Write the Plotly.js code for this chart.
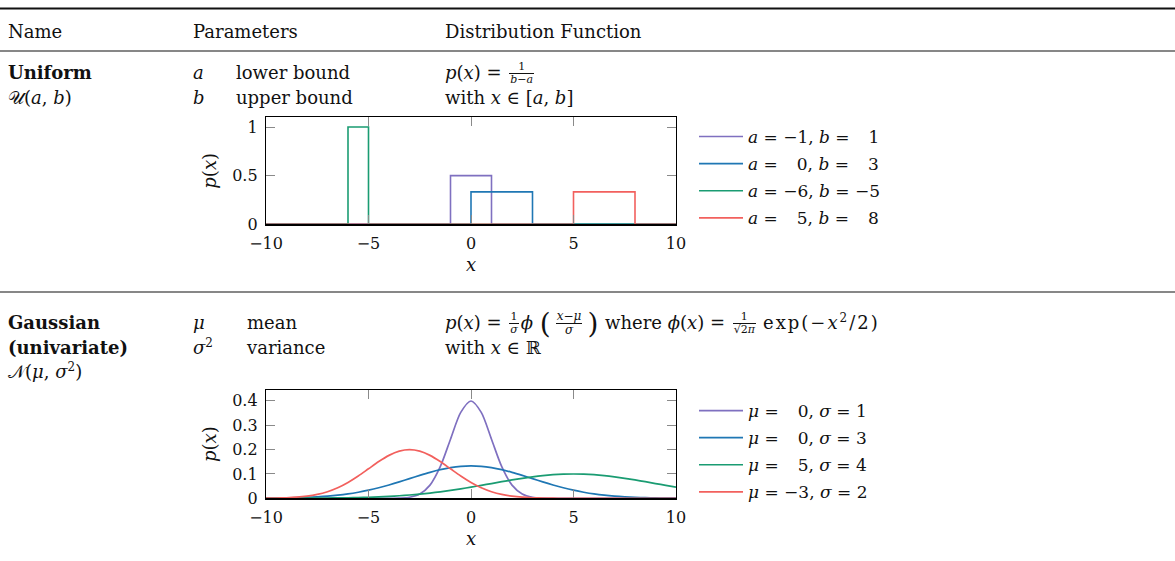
<!DOCTYPE html>
<html><head><meta charset="utf-8">
<script src="https://cdn.plot.ly/plotly-3.0.1.min.js"></script>
<style>
html,body{margin:0;padding:0;background:#fff;}
#wrap{position:relative;width:1175px;height:561px;overflow:hidden;background:#fff;}
#plot{position:absolute;left:0;top:0;width:1175px;height:561px;}
.t{position:absolute;font-family:'DejaVu Serif',serif;font-size:18px;line-height:18px;white-space:nowrap;color:#111;z-index:5;}
.t i{font-style:italic;}
.frac{display:inline-block;vertical-align:-4.3px;text-align:center;font-size:11px;line-height:12px;margin:0 2px;}
.frac.w{font-size:12px;line-height:13px;vertical-align:-5.1px;margin:0 4px;}
.frac>span{display:block;padding:0 1px;}
.frac>span.n{border-bottom:1px solid #111;}
sup{font-size:12px;vertical-align:7px;line-height:0;}
.big{font-size:28px;line-height:18px;vertical-align:-4px;font-weight:200;margin:0 1px;}
.ex{letter-spacing:2px;margin-left:5px;}
.mk{display:inline-block;width:0;height:0;vertical-align:baseline;}
</style></head><body>
<div id="wrap"><div id="plot"></div></div>
<script>
// ---------------- data ----------------
// Uniform distributions: parameters
const uniformA = [-1, 0, -6, 5];
const uniformB = [1, 3, -5, 8];
const uniformH = [0.5, 0.333, 1, 0.333];
const uniformColors = ['#7f70c0', '#1f77b4', '#1a9c72', '#f2605d'];

// Gaussian curves: x grid and density values
const gaussX = [-10,-9.5,-9,-8.5,-8,-7.5,-7,-6.5,-6,-5.5,-5,-4.5,-4,-3.5,-3,-2.5,-2,-1.5,-1,-0.5,0,
                0.5,1,1.5,2,2.5,3,3.5,4,4.5,5,5.5,6,6.5,7,7.5,8,8.5,9,9.5,10];
const gaussMu = [0, 0, 5, -3];
const gaussSigma = [1, 3, 4, 2];
const gauss_0_1 = [0,0,0,0,0,0,0,0,0,0,0,0,0.0001,0.0009,0.0044,0.0175,0.0540,0.1295,0.2420,0.3521,0.3989,
                   0.3521,0.2420,0.1295,0.0540,0.0175,0.0044,0.0009,0.0001,0,0,0,0,0,0,0,0,0,0,0,0];
const gauss_0_3 = [0.0005,0.0009,0.0015,0.0024,0.0038,0.0058,0.0087,0.0127,0.0180,0.0248,0.0332,0.0432,0.0547,0.0673,0.0807,0.0940,0.1065,0.1174,0.1258,0.1312,0.1330,
                   0.1312,0.1258,0.1174,0.1065,0.0940,0.0807,0.0673,0.0547,0.0432,0.0332,0.0248,0.0180,0.0127,0.0087,0.0058,0.0038,0.0024,0.0015,0.0009,0.0005];
const gauss_5_4 = [0.0001,0.0001,0.0002,0.0003,0.0005,0.0008,0.0011,0.0016,0.0023,0.0032,0.0044,0.0059,0.0079,0.0104,0.0135,0.0172,0.0216,0.0266,0.0324,0.0388,0.0457,
                   0.0530,0.0605,0.0680,0.0753,0.0820,0.0880,0.0930,0.0967,0.0990,0.0997,0.0990,0.0967,0.0930,0.0880,0.0820,0.0753,0.0680,0.0605,0.0530,0.0457];
const gauss_m3_2 = [0.0004,0.0010,0.0022,0.0045,0.0088,0.0159,0.0270,0.0431,0.0648,0.0913,0.1210,0.1506,0.1760,0.1933,0.1995,0.1933,0.1760,0.1506,0.1210,0.0913,0.0648,
                    0.0431,0.0270,0.0159,0.0088,0.0045,0.0022,0.0010,0.0004,0.0002,0.0001,0,0,0,0,0,0,0,0,0,0];
const gaussY = [gauss_0_1, gauss_0_3, gauss_5_4, gauss_m3_2];
const gaussColors = ['#7f70c0', '#1f77b4', '#1a9c72', '#f2605d'];

const xTicks = [-10, -5, 0, 5, 10];
const yTicks1 = [0, 0.5, 1];
const yTicks2 = [0, 0.1, 0.2, 0.3, 0.4];

// ---------------- helpers ----------------
const FONT = "'DejaVu Serif', serif";
const PAD = '\u2002\u2009\u200A'; // roughly the width of a minus sign
function num(v){ return v < 0 ? '\u2212' + Math.abs(v) : PAD + v; }
const W = 1175, H = 561;
const px = x => x / W;
const py = y => 1 - y / H;

// ---------------- traces ----------------
const traces = [];
uniformA.forEach((a, i) => {
  const b = uniformB[i], h = uniformH[i];
  traces.push({
    type: 'scatter', mode: 'lines', xaxis: 'x', yaxis: 'y', legend: 'legend', legendgroup: 'u' + i,
    x: [-10, a, a, b, b, 10], y: [0, 0, h, h, 0, 0],
    line: {color: uniformColors[i], width: 1.6},
    name: '<i>a</i> = ' + num(a) + ', <i>b</i> = ' + num(b),
    hoverinfo: 'skip'
  });
});
gaussY.forEach((ys, i) => {
  traces.push({
    type: 'scatter', mode: 'lines', xaxis: 'x2', yaxis: 'y2', legend: 'legend2', legendgroup: 'g' + i,
    x: gaussX, y: ys,
    line: {color: gaussColors[i], width: 1.7, shape: 'spline', smoothing: 0.8},
    name: '<i>\u03bc</i> = ' + num(gaussMu[i]) + ', <i>\u03c3</i> = ' + gaussSigma[i],
    hoverinfo: 'skip'
  });
});

const axisCommon = {
  showline: true, linecolor: '#000', linewidth: 1.2, mirror: 'ticks',
  ticks: 'inside', ticklen: 9, tickwidth: 1, tickcolor: '#8a8a8a',
  showgrid: false, zeroline: false, fixedrange: true,
  tickfont: {family: FONT, size: 16, color: '#111'},
  ticklabelstandoff: 4
};
const xDom = [px(266), px(676)];
const xTitle = {text: '<i>x</i>', font: {family: FONT, size: 18, color: '#111'}, standoff: 6};
const yTitle = {text: '<i>p</i>(<i>x</i>)', font: {family: FONT, size: 18, color: '#111'}, standoff: 10};
const legendCommon = {
  xanchor: 'left', yanchor: 'top', bgcolor: 'rgba(0,0,0,0)', borderwidth: 0,
  font: {family: FONT, size: 17, color: '#111'}, itemwidth: 44, traceorder: 'grouped', tracegroupgap: 2
};
const rule = (y, w) => ({type: 'line', xref: 'paper', yref: 'paper', x0: 0, x1: 1, y0: py(y), y1: py(y),
  line: {color: '#111', width: w}});

const layout = {
  width: W, height: H, margin: {l: 0, r: 0, t: 0, b: 0},
  paper_bgcolor: '#fff', plot_bgcolor: '#fff', showlegend: true,
  xaxis: Object.assign({}, axisCommon, {domain: xDom, anchor: 'y', range: [-10, 10], tickvals: xTicks, title: xTitle}),
  yaxis: Object.assign({}, axisCommon, {domain: [py(224.3), py(117.3)], anchor: 'x', range: [0, 1.1], tickvals: yTicks1, title: yTitle}),
  xaxis2: Object.assign({}, axisCommon, {domain: xDom, anchor: 'y2', range: [-10, 10], tickvals: xTicks, title: xTitle}),
  yaxis2: Object.assign({}, axisCommon, {domain: [py(498.3), py(390)], anchor: 'x2', range: [0, 0.444], tickvals: yTicks2, title: yTitle}),
  legend: Object.assign({}, legendCommon, {x: px(694), y: py(119)}),
  legend2: Object.assign({}, legendCommon, {x: px(694), y: py(393)}),
  shapes: [rule(8.5, 1.8), rule(51, 1.1), rule(292, 1.1)]
};

Plotly.newPlot('plot', traces, layout, {displayModeBar: false, staticPlot: true});

// ---------------- table text ----------------
function hasGlyph(ch){
  const c = document.createElement('canvas').getContext('2d');
  c.font = "18px 'DejaVu Serif'";
  return Math.abs(c.measureText(ch).width - c.measureText('\uE000').width) > 0.5;
}
const scrU = hasGlyph('\u{1D4B0}') ? '\u{1D4B0}' : '<i>U</i>';
const scrN = hasGlyph('\u{1D4A9}') ? '\u{1D4A9}' : '<i>N</i>';
const frac = (n, d, cls) => '<span class="frac' + (cls ? ' ' + cls : '') + '"><span class="n">' + n + '</span><span class="d">' + d + '</span></span>';

const texts = [
  [8, 37.5, 'Name'], [193, 37.5, 'Parameters'], [445, 37.5, 'Distribution Function'],
  [8, 78.5, '<b>Uniform</b>'], [8, 103.5, scrU + '(<i>a</i>, <i>b</i>)'],
  [193, 78.5, '<i>a</i>'], [236, 78.5, 'lower bound'],
  [193, 103.5, '<i>b</i>'], [236, 103.5, 'upper bound'],
  [445, 78.5, '<i>p</i>(<i>x</i>) = ' + frac('1', '<i>b</i>\u2212<i>a</i>')],
  [445, 103.5, 'with <i>x</i> \u2208 [<i>a</i>, <i>b</i>]'],
  [8, 328.5, '<b>Gaussian</b>'], [8, 353.5, '<b>(univariate)</b>'],
  [8, 377.5, scrN + '(<i>\u03bc</i>, <i>\u03c3</i><sup>2</sup>)'],
  [193, 328.5, '<i>\u03bc</i>'], [247, 328.5, 'mean'],
  [193, 353.5, '<i>\u03c3</i><sup>2</sup>'], [247, 353.5, 'variance'],
  [445, 328.5, '<i>p</i>(<i>x</i>) = ' + frac('1', '<i>\u03c3</i>') + '<i>\u03d5</i> <span class="big">(</span>' +
     frac('<i>x</i>\u2212<i>\u03bc</i>', '<i>\u03c3</i>', 'w') + '<span class="big">)</span> where <i>\u03d5</i>(<i>x</i>) = ' +
     frac('1', '\u221a2<i>\u03c0</i>') + '<span class="ex">exp(\u2212<i>x</i><sup>2</sup>/2)</span>'],
  [445, 353.5, 'with <i>x</i> \u2208 \u211d']
];
const wrap = document.getElementById('wrap');
texts.forEach(([x, base, html]) => {
  const d = document.createElement('div');
  d.className = 't';
  d.style.left = x + 'px';
  d.style.top = '0px';
  d.innerHTML = html + '<span class="mk"></span>';
  wrap.appendChild(d);
  const mk = d.querySelector('.mk').getBoundingClientRect().top - wrap.getBoundingClientRect().top;
  d.style.top = (base - mk) + 'px';
});
</script>
</body></html>
